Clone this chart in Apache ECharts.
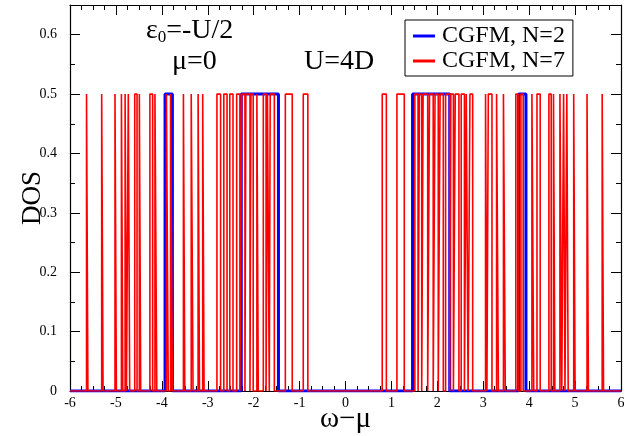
<!DOCTYPE html>
<html>
<head>
<meta charset="UTF-8">
<title>DOS CGFM</title>
<script src="https://cdn.jsdelivr.net/npm/echarts@6/dist/echarts.min.js"></script>
<style>
  html, body { margin: 0; padding: 0; background: #fff; }
  #chart { width: 644px; height: 436px; }
</style>
</head>
<body>
<div id="chart"></div>
<script>
// axis ticks
const xTicks = [-6, -5, -4, -3, -2, -1, 0, 1, 2, 3, 4, 5, 6];
const yTicks = [0, 0.1, 0.2, 0.3, 0.4, 0.5, 0.6];
const peakHeight = 0.5;

// CGFM N=2: intervals where DOS = 0.5
const boxesN2 = [
  [-3.93, -3.77], [-2.27, -1.46], [1.46, 2.27], [3.77, 3.93]
];

// CGFM N=7: intervals where DOS = 0.5
const boxesN7 = [
  [-5.64, -5.61], [-5.31, -5.28], [-5.02, -4.99], [-4.88, -4.85], [-4.80, -4.77],
  [-4.73, -4.70], [-4.59, -4.54], [-4.49, -4.46], [-4.26, -4.20], [-4.15, -4.11],
  [-3.90, -3.86], [-3.81, -3.77], [-3.53, -3.50], [-3.36, -3.32], [-3.21, -3.18],
  [-3.11, -3.08], [-2.80, -2.72], [-2.65, -2.58], [-2.52, -2.45], [-2.37, -2.30],
  [-2.26, -2.19], [-2.17, -2.08], [-2.06, -2.01], [-1.93, -1.90], [-1.79, -1.73],
  [-1.70, -1.66], [-1.64, -1.55], [-1.31, -1.16], [-0.92, -0.82],
  [0.80, 0.89], [1.12, 1.28], [1.51, 1.58], [1.61, 1.66], [1.69, 1.79],
  [1.83, 1.91], [1.95, 2.02], [2.06, 2.13], [2.18, 2.27], [2.29, 2.35],
  [2.39, 2.47], [2.52, 2.59], [2.63, 2.67], [2.71, 2.77], [3.05, 3.08],
  [3.11, 3.19], [3.29, 3.33], [3.44, 3.48], [3.71, 3.76], [3.82, 3.87],
  [4.06, 4.10], [4.17, 4.24], [4.43, 4.48], [4.53, 4.56], [4.67, 4.71],
  [4.75, 4.78], [4.82, 4.85], [4.97, 5.00], [5.26, 5.29], [5.59, 5.62]
];

// turn [start, end] boxes into a step curve
function toSteps(boxes) {
  const pts = [[xTicks[0], 0]];
  boxes.forEach(([a, b]) => {
    pts.push([a, 0], [a, peakHeight], [b, peakHeight], [b, 0]);
  });
  pts.push([xTicks[xTicks.length - 1], 0]);
  return pts;
}

const serif = "Liberation Serif";
const chart = echarts.init(document.getElementById("chart"));

const tickBase = {
  axisLine: { show: true, onZero: false, lineStyle: { color: "#000", width: 1.2 } },
  axisTick: { show: true, inside: true, length: 10, lineStyle: { color: "#000" } },
  minorTick: { show: true, length: 5, lineStyle: { color: "#000" } },
  splitLine: { show: false },
};

const option = {
  backgroundColor: "#fff",
  animation: false,
  grid: { left: 70, right: 23, top: 5, bottom: 45, outerBoundsMode: "none", containLabel: false },
  legend: {
    orient: "vertical",
    left: 405,
    top: 20,
    padding: [4, 8, 3, 8],
    itemGap: 1,
    itemWidth: 22,
    itemHeight: 3,
    icon: "rect",
    borderColor: "#000",
    borderWidth: 1,
    textStyle: { fontFamily: serif, fontSize: 24, color: "#000", padding: [0, 0, 0, 2] },
    data: ["CGFM, N=2", "CGFM, N=7"],
  },
  xAxis: [
    {
      type: "value",
      min: xTicks[0],
      max: xTicks[xTicks.length - 1],
      interval: 1,
      position: "bottom",
      name: "ω−μ",
      nameLocation: "middle",
      nameGap: 14,
      nameMoveOverlap: false,
      nameTextStyle: { fontFamily: serif, fontSize: 29, color: "#000" },
      ...tickBase,
      minorTick: { ...tickBase.minorTick, splitNumber: 4 },
      axisLabel: { fontFamily: serif, fontSize: 14, color: "#000", margin: 5 },
    },
    {
      type: "value",
      min: xTicks[0],
      max: xTicks[xTicks.length - 1],
      interval: 1,
      position: "top",
      ...tickBase,
      minorTick: { ...tickBase.minorTick, splitNumber: 4 },
      axisLabel: { show: false },
    },
  ],
  yAxis: [
    {
      type: "value",
      min: 0,
      max: 0.65,
      interval: 0.1,
      position: "left",
      name: "DOS",
      nameLocation: "middle",
      nameGap: 24,
      nameMoveOverlap: false,
      nameTextStyle: { fontFamily: serif, fontSize: 27, color: "#000" },
      ...tickBase,
      minorTick: { ...tickBase.minorTick, splitNumber: 2 },
      axisLabel: {
        fontFamily: serif, fontSize: 14, color: "#000", margin: 13,
        showMaxLabel: false,
        formatter: (v) => (yTicks.some((t) => Math.abs(t - v) < 1e-9) ? String(+v.toFixed(1)) : ""),
      },
    },
    {
      type: "value",
      min: 0,
      max: 0.65,
      interval: 0.1,
      position: "right",
      ...tickBase,
      minorTick: { ...tickBase.minorTick, splitNumber: 2 },
      axisLabel: { show: false },
    },
  ],
  series: [
    {
      name: "CGFM, N=2",
      type: "line",
      symbol: "none",
      data: toSteps(boxesN2),
      lineStyle: { color: "#0000ff", width: 3 },
      itemStyle: { color: "#0000ff" },
      z: 2,
    },
    {
      name: "CGFM, N=7",
      type: "line",
      symbol: "none",
      data: toSteps(boxesN7),
      lineStyle: { color: "#ff0000", width: 1.6 },
      itemStyle: { color: "#ff0000" },
      z: 3,
    },
  ],
  graphic: [
    {
      type: "text",
      left: 146,
      top: 17,
      style: {
        text: "{a|ε}{s|0}{a|=-U/2}",
        rich: {
          a: { fontFamily: serif, fontSize: 28, fill: "#000" },
          s: { fontFamily: serif, fontSize: 17, fill: "#000", padding: [14, 0, 0, 0] },
        },
      },
    },
    {
      type: "text",
      left: 172,
      top: 48,
      style: { text: "μ=0", fontFamily: serif, fontSize: 28, fill: "#000" },
    },
    {
      type: "text",
      left: 304,
      top: 48,
      style: { text: "U=4D", fontFamily: serif, fontSize: 28, fill: "#000" },
    },
  ],
};

chart.setOption(option);
</script>
</body>
</html>
